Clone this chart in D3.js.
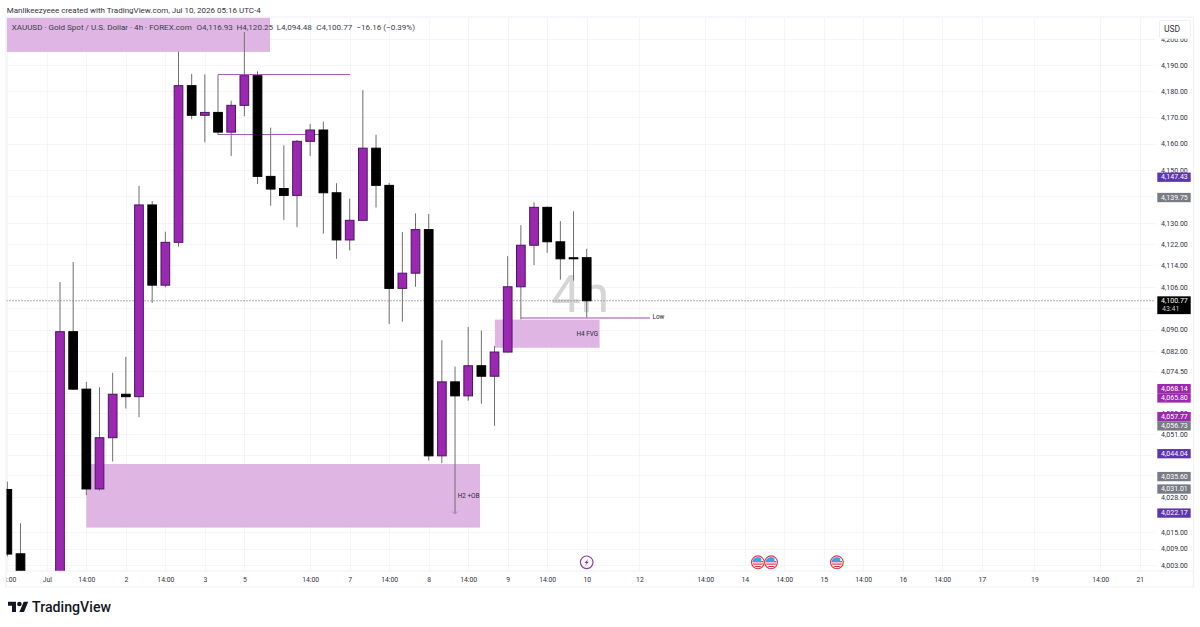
<!DOCTYPE html>
<html>
<head>
<meta charset="utf-8">
<title>XAUUSD 4h</title>
<script src="https://cdn.jsdelivr.net/npm/d3@7"></script>
<style>
  html, body { margin: 0; padding: 0; background: #fff; }
  svg { display: block; font-family: Roboto, "Liberation Sans", sans-serif; }
  .axis path, .axis line { display: none; }
</style>
</head>
<body>
<svg id="chart" width="1200" height="627"></svg>
<script>
// Bar numbers count 4h candles from the first session shown after the gap.
const barNumbers = [-4,-3,0,1,2,3,4,5,6,7,8,9,10,11,12,13,14,15,16,17,18,19,20,21,22,23,24,25,26,27,28,29,30,31,32,33,34,35,36,37,38,39,40];
const opens  = [4030.7,4007.1,3990,4089.2,4067.8,4030.9,4049.8,4065.9,4065.0,4136.8,4106.6,4122.7,4182.1,4170.8,4171.9,4164.4,4174.6,4185.9,4147.6,4143.0,4140.4,4160.9,4165.2,4141.4,4123.6,4131.0,4158.3,4144.2,4105.4,4111.1,4127.5,4043.1,4070.5,4065.3,4076.5,4072.6,4081.6,4106.0,4121.6,4135.9,4122.9,4116.9,4116.93];
const highs  = [4033.6,4018.3,4107.8,4115.3,4070.5,4068.5,4073.9,4079.8,4144.0,4138.3,4126.7,4195.1,4186.6,4186.4,4186.2,4176.3,4202.6,4187.6,4166.1,4159.4,4161.4,4167.5,4168.4,4145.0,4139.2,4180.4,4163.4,4145.1,4126.6,4133.6,4133.4,4086.0,4076.2,4091.0,4089.6,4083.9,4117.5,4129.2,4137.8,4136.2,4130.7,4134.4,4120.25];
const lows   = [4006.1,3990,3985,4067.5,4028.6,4030.3,4041.0,4060.6,4057.4,4100.0,4105.8,4121.1,4169.3,4160.5,4163.3,4155.3,4170.4,4144.7,4136.5,4131.2,4128.4,4155.3,4126.0,4116.5,4119.7,4130.8,4135.8,4092.1,4092.9,4106.0,4041.4,4040.4,4021.7,4063.5,4062.4,4054.2,4081.4,4093.8,4114.1,4118.8,4108.7,4108.3,4094.48];
const closes = [4007.0,3992,4089.2,4067.8,4030.9,4049.8,4065.9,4065.0,4136.8,4106.6,4122.7,4182.1,4170.8,4171.9,4164.4,4174.6,4185.9,4147.6,4142.8,4140.4,4160.9,4165.2,4141.4,4123.6,4131.0,4158.3,4144.2,4105.4,4111.1,4127.5,4043.1,4070.5,4065.3,4076.5,4072.6,4081.6,4106.0,4121.6,4135.9,4122.9,4116.5,4116.5,4100.77];

// Labelled price ticks, and the grid levels whose labels sit under a price tag.
const priceTicks = [4200,4190,4180,4170,4160,4150,4130,4122,4114,4106,4090,4082,4074.5,4059,4051,4028,4015,4009,4003];
const unlabelledLevels = [4140,4098,4066.5,4043.5,4036];

const timeTickBars   = [-4,-1,2,5,8,11,14,19,22,25,28,31,34,37,40,44,49,52,55,58,61,64,67,70,74,79,82];
const timeTickLabels = ["14:00","Jul","14:00","2","14:00","3","5","14:00","7","14:00","8","14:00","9","14:00","10","12","14:00","14","14:00","15","14:00","16","14:00","17","19","14:00","21"];

// Shaded zones: start bar, end bar, upper price, lower price.
const zoneStart = [-4.05, 2, 33.03];
const zoneEnd   = [15.95, 31.9, 40.98];
const zoneUpper = [4208.1, 4040.1, 4093.7];
const zoneLower = [4195.0, 4016.7, 4083.2];

// Horizontal level lines: start bar, end bar, price, colour, weight.
const levelStart = [12, 12, 35];
const levelEnd   = [22, 20, 44.83];
const levelPrice = [4186.2, 4163.6, 4094.48];
const levelColor = ["#a65cb8", "#a65cb8", "#cda6d6"];
const levelWeight = [1, 1, 2];

// Price tags on the right axis.
const tagPrices = [4147.43,4139.75,4068.14,4065.80,4057.77,4056.73,4044.04,4035.60,4031.01,4022.17];
const tagColors = ["#5e35b1","#787b86","#9c27b0","#9c27b0","#9c27b0","#787b86","#5e35b1","#787b86","#787b86","#5e35b1"];

const lastPrice = 4100.77;
const countdown = "43:41";

const eventFlagBars = [53, 54, 59];
const eventBoltBars = [40];

const headerText = "Manlikeezyeee created with TradingView.com, Jul 10, 2026 05:16 UTC-4";
const legendText = "XAUUSD · Gold Spot / U.S. Dollar · 4h · FOREX.com";
const legendOHLC = ["O4,116.93", "H4,120.25", "L4,094.48", "C4,100.77", "−16.16 (−0.39%)"];

const pane = { left: 6.5, right: 1155, top: 17.5, bottom: 570.7 };
const axisRight = 1193.5, axisBottom = 587;
const upColor = "#9c27b0", upBorder = "#4a1566", downColor = "#000", wickColor = "#6f6f6f";
const gridColor = "#f5f5f8", borderColor = "#eef0f5", textColor = "#2f3240";
const bodyWidth = 8.7;
const fmt = d3.format(",.2f");

const svg = d3.select("#chart");

// Time runs along the bar number; price is on a logarithmic axis.
const x = d3.scaleLinear().domain([0, 40]).range([60, 586.7]);
const y = d3.scaleLog().domain([4003, 4190]).range([565, 65]);

svg.append("defs").append("clipPath").attr("id", "pane-clip").append("rect")
  .attr("x", pane.left).attr("y", pane.top)
  .attr("width", pane.right - pane.left).attr("height", pane.bottom - pane.top);

// Frame of the pane and axes.
svg.append("rect").attr("x", pane.left - 0.5).attr("y", pane.top - 0.5)
  .attr("width", axisRight - pane.left + 0.5).attr("height", axisBottom - pane.top + 0.5)
  .attr("fill", "#fff").attr("stroke", borderColor);
svg.append("line").attr("x1", pane.left).attr("x2", axisRight)
  .attr("y1", pane.bottom + 0.3).attr("y2", pane.bottom + 0.3).attr("stroke", borderColor);

const plot = svg.append("g").attr("clip-path", "url(#pane-clip)");

// Gridlines
plot.append("g").selectAll("line").data(priceTicks.concat(unlabelledLevels)).join("line")
  .attr("x1", pane.left).attr("x2", pane.right)
  .attr("y1", d => Math.round(y(d)) + 0.5).attr("y2", d => Math.round(y(d)) + 0.5)
  .attr("stroke", gridColor);
plot.append("g").selectAll("line").data(timeTickBars).join("line")
  .attr("y1", pane.top).attr("y2", pane.bottom)
  .attr("x1", d => Math.round(x(d)) + 0.5).attr("x2", d => Math.round(x(d)) + 0.5)
  .attr("stroke", gridColor);

// Interval watermark
plot.append("text").attr("x", x(40) - 6.5).attr("y", 312).attr("text-anchor", "middle")
  .attr("font-size", 52).attr("fill", "#d6d6d8").text("4h");

// Last price dotted line
plot.append("line").attr("x1", pane.left).attr("x2", pane.right)
  .attr("y1", y(lastPrice)).attr("y2", y(lastPrice))
  .attr("stroke", "#55565c").attr("stroke-width", 0.9).attr("stroke-dasharray", "1 2");

// Zones
plot.append("g").selectAll("rect").data(d3.range(zoneStart.length)).join("rect")
  .attr("x", i => x(zoneStart[i])).attr("width", i => x(zoneEnd[i]) - x(zoneStart[i]))
  .attr("y", i => y(zoneUpper[i])).attr("height", i => y(zoneLower[i]) - y(zoneUpper[i]))
  .attr("fill", "#dfb5e4");

// Levels
plot.append("g").attr("shape-rendering", "crispEdges").selectAll("line").data(d3.range(levelStart.length)).join("line")
  .attr("x1", i => x(levelStart[i])).attr("x2", i => x(levelEnd[i]))
  .attr("y1", i => y(levelPrice[i])).attr("y2", i => y(levelPrice[i]))
  .attr("stroke", i => levelColor[i]).attr("stroke-width", i => levelWeight[i]);

// Candles
const candles = barNumbers.map((bar, i) => ({ bar, o: opens[i], h: highs[i], l: lows[i], c: closes[i] }));
const candle = plot.append("g").selectAll("g").data(candles).join("g");
candle.append("line")
  .attr("x1", d => x(d.bar)).attr("x2", d => x(d.bar))
  .attr("y1", d => y(d.h)).attr("y2", d => y(d.l))
  .attr("stroke", wickColor).attr("stroke-width", 1);
candle.append("rect")
  .attr("x", d => x(d.bar) - bodyWidth / 2).attr("width", bodyWidth)
  .attr("y", d => y(Math.max(d.o, d.c)))
  .attr("height", d => Math.max(0.2, y(Math.min(d.o, d.c)) - y(Math.max(d.o, d.c))))
  .attr("fill", d => d.c >= d.o ? upColor : downColor)
  .attr("stroke", d => d.c >= d.o ? upBorder : downColor).attr("stroke-width", 1);

// Zone and level annotations
const noteStyle = s => s.attr("font-size", 6.4).attr("fill", "#2a2a30").attr("text-anchor", "middle").attr("dominant-baseline", "central");
plot.append("text").attr("x", x(31.03)).attr("y", y(4028.35)).call(noteStyle).text("H2 +OB");
plot.append("text").attr("x", x(40.05)).attr("y", y(4088.2)).call(noteStyle).text("H4 FVG");
plot.append("text").attr("x", x(45.45)).attr("y", y(4094.7)).call(noteStyle).text("Low");
plot.append("path")
  .attr("transform", `translate(${x(30)},${y(4021.7)})`)
  .attr("d", "M-3,-2.5L0,0L3,-2.5").attr("fill", "none").attr("stroke", "#a98ab2").attr("stroke-width", 0.8);

// Event markers along the bottom of the pane
const eventY = 562.3;
const bolts = plot.append("g").selectAll("g").data(eventBoltBars).join("g")
  .attr("transform", d => `translate(${x(d)},${eventY})`);
bolts.append("circle").attr("r", 6.3).attr("fill", "#fff").attr("stroke", "#8e44ad").attr("stroke-width", 1.2);
bolts.append("path").attr("d", "M1.6,-3.6L-2.2,0.6H-0.2L-1.6,3.6L2.2,-0.6H0.2Z").attr("fill", "#8e44ad");

const flags = plot.append("g").selectAll("g").data(eventFlagBars).join("g")
  .attr("transform", d => `translate(${x(d)},${eventY})`);
svg.select("defs").append("clipPath").attr("id", "flag-clip").append("circle").attr("r", 5.4);
flags.append("circle").attr("r", 6.4).attr("fill", "#fff").attr("stroke", "#e0394f").attr("stroke-width", 1.1);
const flagArt = flags.append("g").attr("clip-path", "url(#flag-clip)");
flagArt.selectAll("rect.stripe").data([-1.2, 1.2, 3.6]).join("rect").attr("class", "stripe")
  .attr("x", -6).attr("width", 12).attr("y", d => d).attr("height", 1.2).attr("fill", "#e0394f");
flagArt.append("path").attr("d", "M-6,-6H3.4V-0.2H-6Z").attr("fill", "#4a9be8");

// Price axis
const priceAxis = svg.append("g").attr("class", "axis")
  .attr("transform", `translate(1187.8,0)`)
  .call(d3.axisRight(y).tickValues(priceTicks).tickFormat(fmt).tickSize(0).tickPadding(0));
priceAxis.selectAll("text").attr("text-anchor", "end").attr("font-size", 7).attr("fill", textColor);
priceAxis.attr("font-family", null);

// Time axis, clipped at the pane's left edge
svg.select("defs").append("clipPath").attr("id", "time-clip").append("rect")
  .attr("x", pane.left).attr("y", 0).attr("width", 1200).attr("height", 30);
const timeAxis = svg.append("g").attr("class", "axis")
  .attr("transform", `translate(0,${pane.bottom})`)
  .attr("clip-path", "url(#time-clip)")
  .call(d3.axisBottom(x).tickValues(timeTickBars).tickFormat((d, i) => timeTickLabels[i]).tickSize(0).tickPadding(6));
timeAxis.selectAll("text").attr("font-size", 6.8).attr("fill", textColor);
timeAxis.attr("font-family", null);

// Price tags, pushed down where they would overlap
const tagHeight = 9.3;
let previous = -Infinity;
const tagLayout = tagPrices.map((p, i) => {
  const cy = Math.max(y(p) + 0.4, previous + tagHeight);
  previous = cy;
  return { p, cy, color: tagColors[i] };
});
const tagX = 1157.3, tagW = 33.4;
const tags = svg.append("g").selectAll("g").data(tagLayout).join("g");
tags.append("rect").attr("x", tagX).attr("width", tagW)
  .attr("y", d => d.cy - tagHeight / 2).attr("height", tagHeight).attr("fill", d => d.color);
tags.append("text").attr("x", 1187.8).attr("y", d => d.cy).attr("text-anchor", "end")
  .attr("dominant-baseline", "central").attr("font-size", 7).attr("fill", "#fff").text(d => fmt(d.p));

// Last price tag with the bar countdown
const lastY = y(lastPrice);
svg.append("rect").attr("x", tagX).attr("width", tagW).attr("y", lastY - 4.4).attr("height", 17.8).attr("fill", "#000");
svg.append("text").attr("x", 1187.8).attr("y", lastY).attr("text-anchor", "end").attr("dominant-baseline", "central")
  .attr("font-size", 7).attr("fill", "#fff").text(fmt(lastPrice));
svg.append("text").attr("x", 1162).attr("y", lastY + 8.6).attr("dominant-baseline", "central")
  .attr("font-size", 7).attr("fill", "#c8c8c8").text(countdown);

// Currency button, which also hides the top of the highest price label
svg.append("rect").attr("x", 1159.5).attr("y", 20.5).attr("width", 31).attr("height", 17.8).attr("rx", 1.5)
  .attr("fill", "#fff").attr("stroke", "#f0f0f3");
svg.append("text").attr("x", 1172).attr("y", 29).attr("text-anchor", "middle").attr("dominant-baseline", "central")
  .attr("font-size", 8.5).attr("fill", "#33343c").text("USD");

// Header and legend
svg.append("text").attr("x", 6.7).attr("y", 10).attr("dominant-baseline", "central")
  .attr("font-size", 8).attr("fill", "#33343c").text(headerText);
svg.append("text").attr("x", 11.7).attr("y", 27.2).attr("dominant-baseline", "central")
  .attr("font-size", 8.05).attr("fill", "#3c3e48").text(legendText);
const legendX = [196.5, 236.5, 276.7, 316.2, 356.5];
svg.append("g").selectAll("text").data(legendOHLC).join("text")
  .attr("x", (d, i) => legendX[i]).attr("y", 27.2).attr("dominant-baseline", "central")
  .attr("font-size", 8.05).attr("fill", "#3c3e48").text(d => d);

// Wordmark
const logo = svg.append("g").attr("transform", "translate(8,599.4) scale(0.57)").attr("fill", "#131722");
logo.append("path").attr("d", "M14 22H7V11H0V4h14v18zM28 22h-8l7.5-18h8L28 22z");
logo.append("circle").attr("cx", 20).attr("cy", 8).attr("r", 4);
svg.append("text").attr("x", 32).attr("y", 612.4)
  .attr("font-size", 14.2).attr("font-weight", 500).attr("fill", "#131722").text("TradingView");
</script>
</body>
</html>
